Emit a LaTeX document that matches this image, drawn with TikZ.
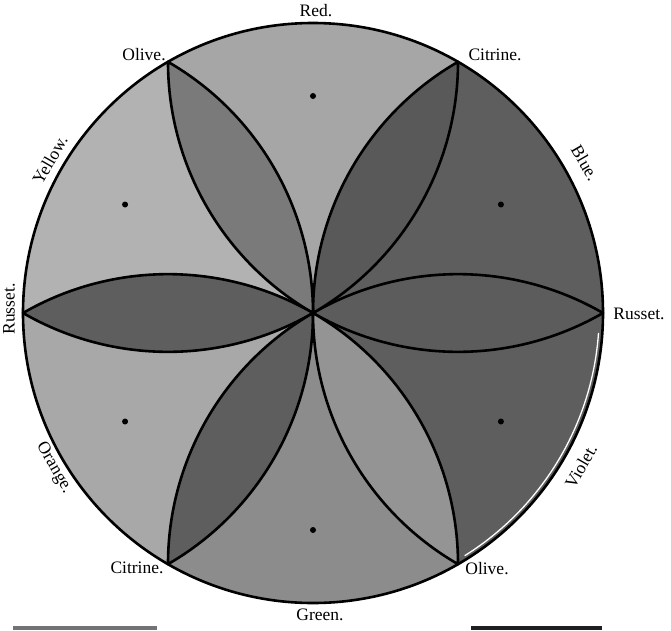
\documentclass[tikz,border=0pt]{standalone}
\usepackage{fontspec}
\setmainfont{Liberation Serif}
\definecolor{regBlue}{gray}{0.37}
\definecolor{regRed}{gray}{0.65}
\definecolor{regYellow}{gray}{0.70}
\definecolor{regOrange}{gray}{0.66}
\definecolor{regGreen}{gray}{0.55}
\definecolor{regViolet}{gray}{0.37}
\definecolor{petRussetR}{gray}{0.36}
\definecolor{petCitrineT}{gray}{0.35}
\definecolor{petOliveT}{gray}{0.48}
\definecolor{petRussetL}{gray}{0.37}
\definecolor{petCitrineB}{gray}{0.37}
\definecolor{petOliveB}{gray}{0.58}
\definecolor{barGray}{gray}{0.45}
\definecolor{barDark}{gray}{0.12}
\begin{document}
\begin{tikzpicture}[x=1pt,y=1pt,line join=round,
  outline/.style={draw=black,line width=2.6pt},
  lbl/.style={font=\fontsize{17.5}{20}\selectfont,inner sep=0pt}]
\def\R{290}
\useasboundingbox (-313,-317) rectangle (358,313);
\fill[white] (-313,-317) rectangle (358,313);
% sectors (colour regions)
\foreach \a/\c in {0/regBlue,60/regRed,120/regYellow,180/regOrange,240/regGreen,300/regViolet}{
  \fill[\c] (0,0) -- (\a:\R) arc[start angle=\a, end angle=\a+60, radius=\R] -- cycle;
}
% petals
\foreach \t/\c in {0/petRussetR,60/petCitrineT,120/petOliveT,180/petRussetL,240/petCitrineB,300/petOliveB}{
  \path[fill=\c,outline] (0,0) arc[start angle=\t+240, end angle=\t+300, radius=\R]
     arc[start angle=\t+60, end angle=\t+120, radius=\R] -- cycle;
}
% white gap along violet edge
\draw[white,line width=1.3pt] (-4:286.2) arc[start angle=-4, end angle=-58, radius=286.2];
% outer circle
\draw[outline] (0,0) circle[radius=\R];
% dots
\foreach \a in {30,90,150,210,270,330}{
  \fill[black] (\a:217) circle[radius=3];
}
% bars at the bottom
\fill[barGray] (-300,-317) rectangle (-156,-313);
\fill[barDark] (158,-317) rectangle (289,-313);
% labels
\node[lbl] (lRed) at (3,302) {Red.};
\node[lbl] (lOliveT) at (-169,258) {Olive.};
\node[lbl] (lCitrineT) at (182,258) {Citrine.};
\node[lbl,rotate=-60] (lBlue) at (272,150) {Blue.};
\node[lbl,rotate=60] (lYellow) at (-263,153) {Yellow.};
\node[lbl,rotate=90] (lRussetL) at (-304,4) {Russet.};
\node[lbl] (lRussetR) at (326,-1) {Russet.};
\node[lbl,rotate=-60] (lOrange) at (-259,-155) {Orange.};
\node[lbl,rotate=60] (lViolet) at (268,-153) {Violet.};
\node[lbl] (lCitrineB) at (-176,-255) {Citrine.};
\node[lbl] (lOliveB) at (174,-256) {Olive.};
\node[lbl] (lGreen) at (7,-302) {Green.};
\end{tikzpicture}
\end{document}
